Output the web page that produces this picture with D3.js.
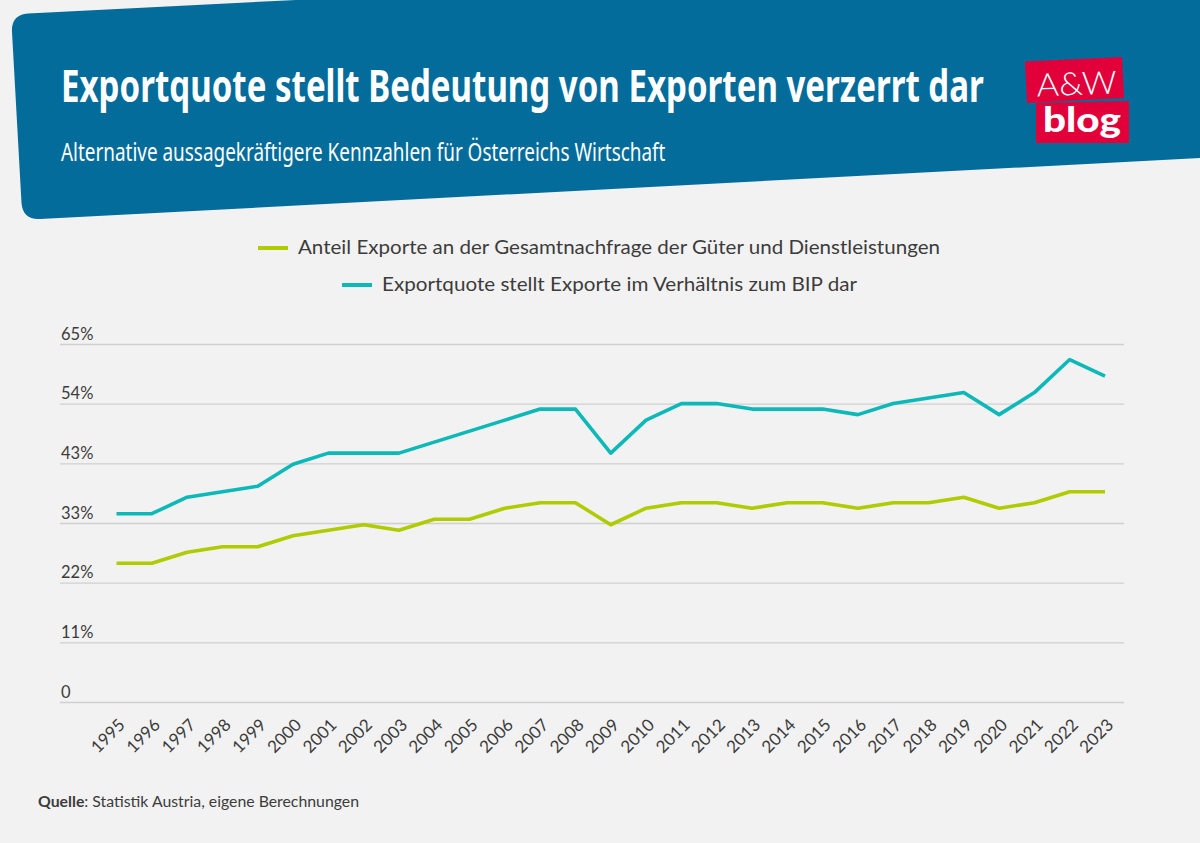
<!DOCTYPE html>
<html>
<head>
<meta charset="utf-8">
<script src="https://cdn.jsdelivr.net/npm/d3@7"></script>
<style>
  html, body { margin: 0; padding: 0; background: #f2f2f2; }
  svg { display: block; }
  text { font-family: Lato, "Noto Sans", sans-serif; }
</style>
</head>
<body>
<div id="chart"></div>
<script>
const years = ["1995","1996","1997","1998","1999","2000","2001","2002","2003","2004","2005","2006","2007","2008","2009","2010","2011","2012","2013","2014","2015","2016","2017","2018","2019","2020","2021","2022","2023"]
const anteil = [25,25,27,28,28,30,31,32,31,33,33,35,36,36,32,35,36,36,35,36,36,35,36,36,37,35,36,38,38]
const exportquote = [34,34,37,38,39,43,45,45,45,47,49,51,53,53,45,51,54,54,53,53,53,52,54,55,56,52,56,62,59]
const yticks = [0,65/6,130/6,195/6,260/6,325/6,65]
const anteilName = "Anteil Exporte an der Gesamtnachfrage der Güter und Dienstleistungen"
const quoteName = "Exportquote stellt Exporte im Verhältnis zum BIP dar"

const width = 1200, height = 843
const svg = d3.select("#chart").append("svg").attr("width", width).attr("height", height)
svg.append("rect").attr("width", width).attr("height", height).attr("fill", "#f2f2f2")

// squeeze a text horizontally to the width it has in the picture
function fitwidth(sel, x, y, w) {
    let natural = sel.node().getComputedTextLength()
    sel.attr("transform", "translate(" + x + "," + y + ") scale(" + (w / natural) + ",1)")
}

// header band
svg.append("path")
    .attr("d", "M28,13.5 L296,0 L1200,0 L1200,158 L40,219 Q23,220 21.5,203 L12,32 Q11,15 28,13.5 Z")
    .attr("fill", "#046c9b")

const title = svg.append("text")
    .attr("fill", "#fff").attr("font-size", 44).attr("font-weight", 700)
    .attr("style", "font-family:'Noto Sans',sans-serif")
    .text("Exportquote stellt Bedeutung von Exporten verzerrt dar")
fitwidth(title, 61, 102, 923)

const subtitle = svg.append("text")
    .attr("fill", "#fff").attr("font-size", 25)
    .attr("style", "font-family:'Noto Sans',sans-serif")
    .text("Alternative aussagekräftigere Kennzahlen für Österreichs Wirtschaft")
fitwidth(subtitle, 61, 160.5, 605)

// logo
svg.append("path").attr("d", "M1025,61.5 L1122,57 L1124,98 L1027,103 Z").attr("fill", "#e2003a")
svg.append("path").attr("d", "M1036,103 L1129,101 L1129,143 L1036,143 Z").attr("fill", "#e2003a")
svg.append("text").attr("x", 1077).attr("y", 95).attr("text-anchor", "middle")
    .attr("textLength", 80).attr("lengthAdjust", "spacingAndGlyphs")
    .attr("fill", "#fff").attr("font-size", 32).attr("font-weight", 300)
    .attr("transform", "rotate(-2 1077 95)")
    .text("A&W")
svg.append("text").attr("x", 1082).attr("y", 132).attr("text-anchor", "middle")
    .attr("textLength", 78).attr("lengthAdjust", "spacingAndGlyphs")
    .attr("fill", "#fff").attr("font-size", 34).attr("font-weight", 900)
    .text("blog")

// scales
const x = d3.scalePoint().domain(years).range([116.5, 1105])
const y = d3.scaleLinear().domain([0, 65]).range([702, 344])

// gridlines + y labels
const yaxis = d3.axisLeft(y).tickValues(yticks).tickSize(0)
    .tickFormat(d => d == 0 ? "0" : Math.round(d) + "%")
const gy = svg.append("g").attr("transform", "translate(60,0)").call(yaxis)
gy.select(".domain").remove()
gy.selectAll("line").attr("x1", 0).attr("x2", 1064).attr("stroke", "#cfcfcf").attr("stroke-width", 1.3)
gy.selectAll("text")
    .attr("x", 1).attr("dy", -5).attr("text-anchor", "start")
    .attr("fill", "#3c3c3c").attr("font-size", 16.5)
    .attr("style", "font-family:Lato,sans-serif")

// x labels
const xaxis = d3.axisBottom(x).tickSize(0)
const gx = svg.append("g").attr("transform", "translate(0,702)").call(xaxis)
gx.select(".domain").remove()
gx.selectAll("text")
    .attr("fill", "#3c3c3c").attr("font-size", 17)
    .attr("text-anchor", "end").attr("dy", 0).attr("y", 0)
    .attr("style", "font-family:Lato,sans-serif")
    .attr("transform", "translate(9,24) rotate(-45)")

// lines
const line = d3.line().x((d, i) => x(years[i])).y(d => y(d) - 1)
svg.append("path").datum(anteil).attr("d", line).attr("fill", "none")
    .attr("stroke", "#b0cb00").attr("stroke-width", 3.6).attr("stroke-linejoin", "round")
svg.append("path").datum(exportquote).attr("d", line).attr("fill", "none")
    .attr("stroke", "#0cb8b8").attr("stroke-width", 3.6).attr("stroke-linejoin", "round")

// legend
const legend = [
    {name: anteilName, color: "#b0cb00", x: 258, y: 248, len: 642},
    {name: quoteName, color: "#0cb8b8", x: 342, y: 285, len: 475}
]
legend.forEach(l => {
    svg.append("line").attr("x1", l.x).attr("x2", l.x + 30).attr("y1", l.y).attr("y2", l.y)
        .attr("stroke", l.color).attr("stroke-width", 4)
    svg.append("text").attr("x", l.x + 40).attr("y", l.y + 6)
        .attr("textLength", l.len).attr("lengthAdjust", "spacingAndGlyphs")
        .attr("fill", "#3c3c3c").attr("font-size", 19)
        .text(l.name)
})

// source
const src = svg.append("text").attr("x", 38).attr("y", 806.5).attr("fill", "#3c3c3c").attr("font-size", 15.5)
    .attr("textLength", 321).attr("lengthAdjust", "spacingAndGlyphs")
src.append("tspan").attr("font-weight", 700).text("Quelle")
src.append("tspan").text(": Statistik Austria, eigene Berechnungen")
</script>
</body>
</html>
